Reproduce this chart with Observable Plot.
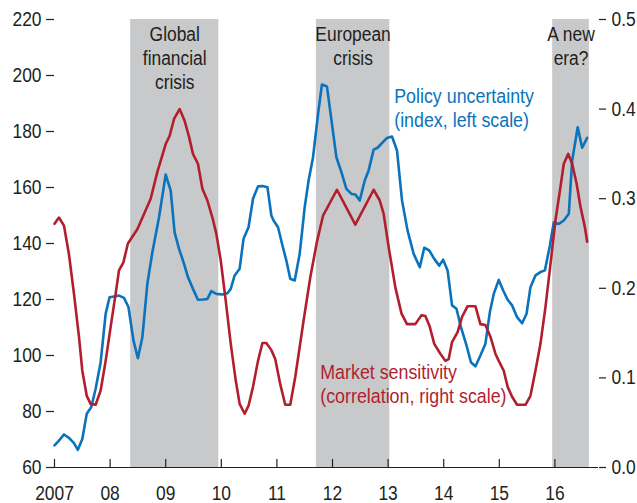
<!DOCTYPE html>
<html>
<head>
<meta charset="utf-8">
<script src="https://cdn.jsdelivr.net/npm/d3@7"></script>
<script src="https://cdn.jsdelivr.net/npm/@observablehq/plot@0.6"></script>
<style>
  html, body { margin: 0; padding: 0; background: #fff; }
  #chart svg { display: block; }
  #chart svg text { font-family: 'Liberation Sans', Arial, sans-serif; }
</style>
</head>
<body>
<div id="chart"></div>
<script>
// ---- Data ----
// Policy uncertainty (index, left scale): decimal year / value
const policyYears = [2007.00,2007.08,2007.17,2007.26,2007.35,2007.42,2007.50,2007.58,2007.66,2007.74,2007.83,2007.92,2007.99,2008.07,2008.16,2008.25,2008.33,2008.42,2008.50,2008.58,2008.67,2008.76,2008.88,2009.00,2009.09,2009.16,2009.24,2009.33,2009.40,2009.49,2009.58,2009.67,2009.75,2009.82,2009.91,2010.02,2010.11,2010.17,2010.24,2010.33,2010.40,2010.49,2010.57,2010.66,2010.74,2010.83,2010.90,2010.94,2011.02,2011.10,2011.17,2011.24,2011.32,2011.41,2011.50,2011.57,2011.65,2011.74,2011.81,2011.90,2011.99,2012.07,2012.16,2012.25,2012.34,2012.41,2012.49,2012.58,2012.65,2012.74,2012.81,2012.98,2013.07,2013.16,2013.25,2013.35,2013.46,2013.57,2013.65,2013.74,2013.83,2013.92,2013.99,2014.07,2014.15,2014.23,2014.31,2014.41,2014.49,2014.57,2014.66,2014.75,2014.83,2014.90,2014.99,2015.07,2015.15,2015.23,2015.32,2015.41,2015.49,2015.56,2015.65,2015.74,2015.82,2015.91,2015.98,2016.07,2016.16,2016.25,2016.31,2016.41,2016.49,2016.58];
const policyValues = [67.9,69.6,71.8,70.6,68.7,66.3,70.2,79.2,81.5,88.1,97.6,114.9,120.8,121.1,121.4,120.6,117.3,105.4,99.0,106.5,125.6,136.9,149.4,164.6,158.9,144.0,138.1,132.7,128.0,123.8,119.9,120.0,120.2,123.0,122.0,121.8,122.2,123.8,128.6,131.0,141.7,145.8,156.0,160.4,160.5,160.1,150.0,148.2,145.8,139.3,133.9,127.4,126.8,136.3,153.0,162.5,170.8,186.3,196.8,196.1,182.7,170.8,165.5,159.5,157.7,157.5,155.4,162.5,166.1,173.5,174.2,177.7,178.2,173.2,155.4,144.6,136.3,131.5,138.5,137.5,134.5,132.1,134.2,130.4,117.9,116.7,110.1,103.6,97.6,96.1,100.0,104.2,115.5,122.0,127.0,123.2,119.9,117.9,113.7,111.5,114.9,124.4,128.6,129.8,130.4,139.3,147.6,147.0,148.2,150.6,169.6,181.5,174.2,177.7];

// Market sensitivity (correlation, right scale): decimal year / value
const marketYears = [2007.00,2007.08,2007.17,2007.26,2007.35,2007.44,2007.50,2007.58,2007.65,2007.74,2007.83,2007.92,2008.01,2008.10,2008.16,2008.24,2008.32,2008.49,2008.73,2008.85,2009.00,2009.07,2009.15,2009.25,2009.34,2009.42,2009.49,2009.58,2009.66,2009.75,2009.84,2009.91,2009.99,2010.08,2010.17,2010.26,2010.33,2010.42,2010.49,2010.57,2010.66,2010.74,2010.81,2010.90,2010.97,2011.06,2011.15,2011.24,2011.33,2011.48,2011.60,2011.72,2011.83,2012.08,2012.41,2012.74,2012.85,2012.92,2013.01,2013.13,2013.24,2013.34,2013.49,2013.60,2013.67,2013.75,2013.83,2013.94,2014.03,2014.09,2014.15,2014.25,2014.33,2014.43,2014.57,2014.66,2014.75,2014.84,2014.93,2014.99,2015.08,2015.15,2015.23,2015.32,2015.47,2015.56,2015.65,2015.74,2015.83,2015.92,2016.01,2016.10,2016.16,2016.24,2016.31,2016.39,2016.46,2016.54,2016.58];
const marketValues = [0.272,0.279,0.270,0.238,0.194,0.146,0.108,0.080,0.071,0.070,0.086,0.119,0.157,0.194,0.220,0.229,0.250,0.266,0.300,0.330,0.361,0.370,0.389,0.400,0.387,0.369,0.350,0.339,0.311,0.298,0.279,0.261,0.231,0.186,0.138,0.097,0.071,0.060,0.069,0.090,0.119,0.139,0.139,0.131,0.121,0.093,0.070,0.070,0.101,0.164,0.212,0.252,0.281,0.310,0.271,0.310,0.298,0.283,0.246,0.201,0.172,0.160,0.160,0.170,0.169,0.157,0.138,0.127,0.119,0.121,0.140,0.151,0.168,0.180,0.180,0.160,0.159,0.146,0.127,0.119,0.108,0.090,0.079,0.070,0.070,0.080,0.108,0.138,0.179,0.227,0.276,0.313,0.339,0.350,0.339,0.317,0.291,0.268,0.252];

// Shaded episodes
const bandStarts = [2008.37, 2011.71, 2015.96];
const bandEnds   = [2009.955, 2013.03, 2016.62];
const bandLabels = ["Global\nfinancial\ncrisis", "European\ncrisis", "A new\nera?"];

// Axes
const xTicks = [2007, 2008, 2009, 2010, 2011, 2012, 2013, 2014, 2015, 2016];
const xTickLabels = ["2007", "08", "09", "10", "11", "12", "13", "14", "15", "16"];
const leftTicks = [60, 80, 100, 120, 140, 160, 180, 200, 220];
const rightTicks = [0, 0.1, 0.2, 0.3, 0.4, 0.5];

const seriesLabels = ["Policy uncertainty\n(index, left scale)", "Market sensitivity\n(correlation, right scale)"];

// ---- Build ----
const leftMin = 60, leftMax = 220, rightMin = 0, rightMax = 0.5;
const toLeft = r => leftMin + (r - rightMin) / (rightMax - rightMin) * (leftMax - leftMin);
const fromLeft = v => rightMin + (v - leftMin) / (leftMax - leftMin) * (rightMax - rightMin);

const policy = policyYears.map((t, i) => ({t, v: policyValues[i]}));
const market = marketYears.map((t, i) => ({t, v: toLeft(marketValues[i])}));
const bands = bandStarts.map((s, i) => ({s, e: bandEnds[i], label: bandLabels[i], mid: (s + bandEnds[i]) / 2}));

const BLUE = "#0b72bc", RED = "#b11f2e", GREY = "#c8c9cb", INK = "#231f20";

const chart = Plot.plot({
  width: 637,
  height: 503,
  marginTop: 19,
  marginBottom: 36,
  marginLeft: 54,
  marginRight: 39,
  style: {fontSize: "20px", color: INK, background: "#fff"},
  x: {domain: [2007, 2016.784], axis: null},
  y: {domain: [leftMin, leftMax], axis: null},
  marks: [
    Plot.rect(bands, {x1: "s", x2: "e", fill: GREY}),
    Plot.ruleY([leftMin], {stroke: INK, strokeWidth: 1.2}),
    Plot.ruleX(xTicks, {stroke: INK, strokeWidth: 1.2, insetTop: 440}),
    Plot.line(policy, {x: "t", y: "v", stroke: BLUE, strokeWidth: 2.6}),
    Plot.line(market, {x: "t", y: "v", stroke: RED, strokeWidth: 2.6}),
    Plot.text(bands, {x: "mid", text: "label", frameAnchor: "top", lineAnchor: "top", dy: 4, fontSize: 20, lineHeight: 1.2, fill: INK}),
    Plot.text([seriesLabels[0]], {x: 2013.11, y: 196.4, text: d => d, textAnchor: "start", lineAnchor: "top", fontSize: 20.5, lineHeight: 1.17, fill: BLUE}),
    Plot.text([seriesLabels[1]], {x: 2011.78, y: 97.6, text: d => d, textAnchor: "start", lineAnchor: "top", fontSize: 20.5, lineHeight: 1.17, fill: RED}),
    Plot.axisX({ticks: xTicks, label: null, tickSize: 0, tickPadding: 18, tickFormat: d => xTickLabels[xTicks.indexOf(d)], fontSize: 20, fill: INK}),
    Plot.axisY({anchor: "left", label: null, ticks: leftTicks, tickSize: 8, tickPadding: 5, strokeWidth: 1.2, fontSize: 20, fill: INK, tickFormat: d => String(d)}),
    Plot.axisY({anchor: "right", label: null, ticks: rightTicks.map(toLeft), tickSize: 7, tickPadding: 6, strokeWidth: 1.2, fontSize: 20, fill: INK, tickFormat: d => fromLeft(d).toFixed(1)})
  ]
});

// Condense text horizontally (reference uses a condensed typeface)
chart.querySelectorAll("text").forEach(t => {
  const tr = t.getAttribute("transform");
  if (tr) t.setAttribute("transform", tr + " scale(0.87,1)");
});

document.getElementById("chart").appendChild(chart);
</script>
</body>
</html>
